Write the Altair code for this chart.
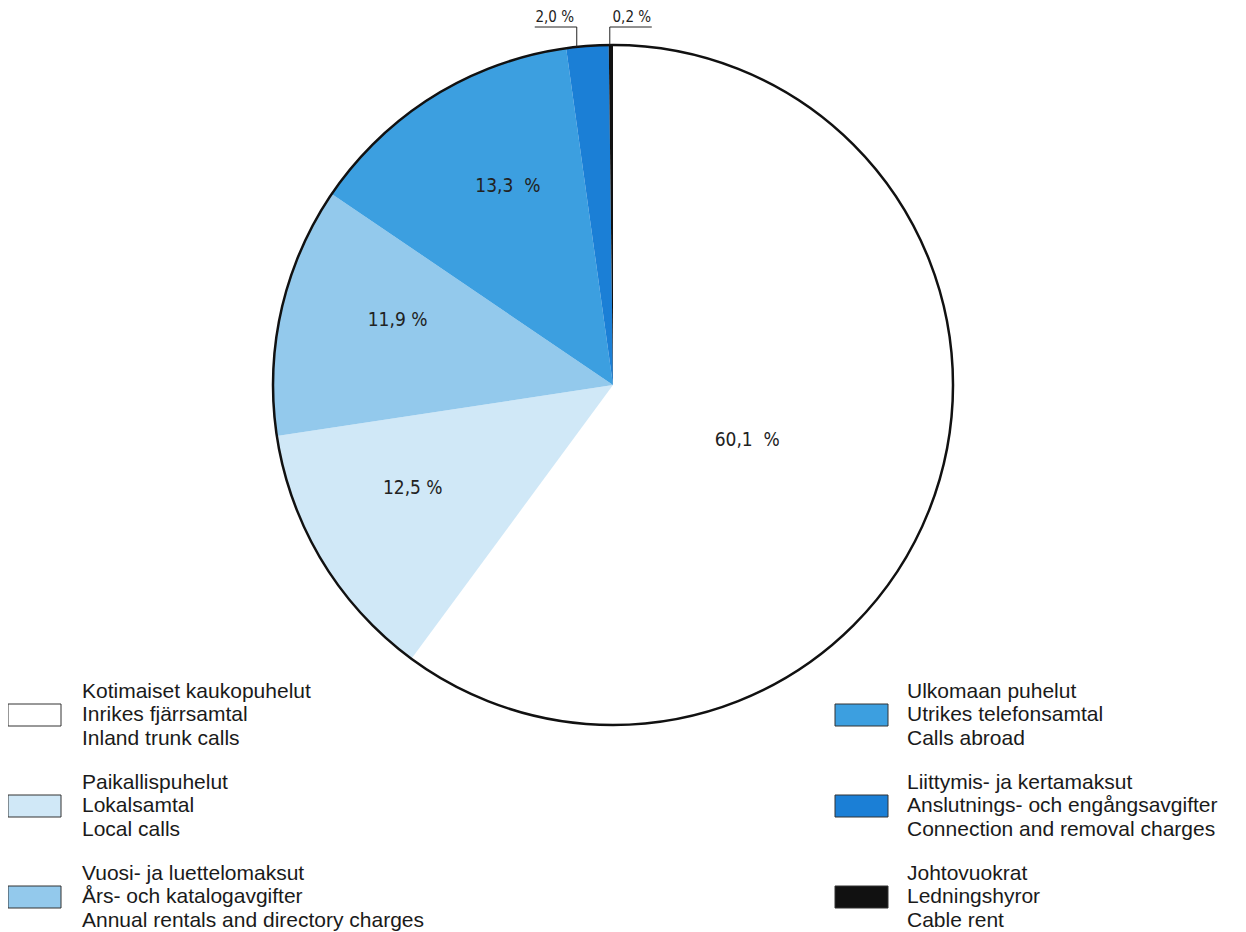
import math
import altair as alt
import pandas as pd

# ---- data ----
finnish = ["Kotimaiset kaukopuhelut", "Paikallispuhelut", "Vuosi- ja luettelomaksut",
           "Ulkomaan puhelut", "Liittymis- ja kertamaksut", "Johtovuokrat"]
swedish = ["Inrikes fjärrsamtal", "Lokalsamtal", "Års- och katalogavgifter",
           "Utrikes telefonsamtal", "Anslutnings- och engångsavgifter", "Ledningshyror"]
english = ["Inland trunk calls", "Local calls", "Annual rentals and directory charges",
           "Calls abroad", "Connection and removal charges", "Cable rent"]
shares = [60.1, 12.5, 11.9, 13.3, 2.0, 0.2]
share_labels = ["60,1\u00a0\u00a0%", "12,5 %", "11,9 %", "13,3\u00a0\u00a0%", "2,0 %", "0,2 %"]
colors = ["#ffffff", "#d0e8f7", "#93c9ec", "#3c9fe0", "#1b7fd6", "#111111"]

df = pd.DataFrame({
    "idx": list(range(len(finnish))),
    "fi": finnish,
    "sv": swedish,
    "en": english,
    "share": shares,
    "label": share_labels,
})

# ---- layout constants (chart coordinates) ----
CX, CY, R = 605, 377, 340
FONT = "Liberation Sans"
NUMFONT = "Liberation Sans Narrow, DejaVu Sans Condensed, Liberation Sans"

color = alt.Color("fi:N", scale=alt.Scale(domain=finnish, range=colors), legend=None)
base = alt.Chart(df)

pie = base.mark_arc(x=CX, y=CY, outerRadius=R, strokeWidth=0).encode(
    theta=alt.Theta("share:Q", stack=True),
    order=alt.Order("idx:Q"),
    color=color,
)

outline = alt.Chart(pd.DataFrame({"v": [1]})).mark_arc(
    x=CX, y=CY, outerRadius=R, fillOpacity=0, stroke="#111111", strokeWidth=2.5
).encode(theta=alt.value(0), theta2=alt.value(2 * math.pi))

polar = base.transform_window(
    cum="sum(share)", sort=[alt.SortField("idx")], frame=[None, 0]
).transform_joinaggregate(tot="sum(share)").transform_calculate(
    a0="2*PI*(datum.cum - datum.share)/datum.tot",
    mid="2*PI*(datum.cum - datum.share/2)/datum.tot",
    span="2*PI*datum.share/datum.tot",
)

inner = polar.transform_filter("datum.share >= 5").transform_calculate(
    r="datum.share > 50 ? 145 : 225",
    ang="datum.mid + 0.07",
).transform_calculate(
    px=f"{CX} + datum.r*sin(datum.ang)",
    py=f"{CY} - datum.r*cos(datum.ang)",
).mark_text(font=NUMFONT, fontSize=19, color="#222222").encode(
    x=alt.X("px:Q", scale=None, axis=None),
    y=alt.Y("py:Q", scale=None, axis=None),
    text="label:N",
)

small = polar.transform_filter("datum.share < 5").transform_calculate(
    ang="datum.a0 + datum.span/4",
    side="datum.share >= 1 ? -1 : 1",
).transform_calculate(
    lx=f"{CX} + {R}*sin(datum.ang)",
    ly=f"{CY} - {R}*cos(datum.ang)",
).transform_calculate(
    lx2="datum.lx + datum.side*42",
    tx="datum.lx + datum.side*22",
    top="19",
)

lead_v = small.mark_rule(color="#222222", strokeWidth=1).encode(
    x=alt.X("lx:Q", scale=None, axis=None),
    y=alt.Y("ly:Q", scale=None, axis=None),
    y2="top:Q",
)
lead_h = small.mark_rule(color="#222222", strokeWidth=1).encode(
    x=alt.X("lx:Q", scale=None, axis=None),
    x2="lx2:Q",
    y=alt.Y("top:Q", scale=None, axis=None),
)
small_text = small.mark_text(font=NUMFONT, fontSize=15, color="#222222",
                             baseline="bottom", dy=-2).encode(
    x=alt.X("tx:Q", scale=None, axis=None),
    y=alt.Y("top:Q", scale=None, axis=None),
    text="label:N",
)

leg = base.transform_calculate(
    col="datum.idx < 3 ? 0 : 1",
    row="datum.idx % 3",
).transform_calculate(
    cy="707 + datum.row*91",
    bx="datum.col*827",
)

boxes = leg.transform_calculate(
    bx2="datum.bx + 53", by="datum.cy - 11", by2="datum.cy + 11"
).mark_rect(stroke="#333333", strokeWidth=1).encode(
    x=alt.X("bx:Q", scale=None, axis=None),
    x2="bx2:Q",
    y=alt.Y("by:Q", scale=None, axis=None),
    y2="by2:Q",
    color=color,
)

leg_text = leg.transform_fold(["fi", "sv", "en"], as_=["lang", "line"]).transform_calculate(
    ln="indexof(['fi','sv','en'], datum.lang)",
).transform_calculate(
    tx="74 + datum.col*825",
    ty="datum.cy + (datum.ln - 1)*23.5",
).mark_text(font=FONT, fontSize=21, color="#1a1a1a", align="left", baseline="middle").encode(
    x=alt.X("tx:Q", scale=None, axis=None),
    y=alt.Y("ty:Q", scale=None, axis=None),
    text="line:N",
)

chart = alt.layer(pie, outline, inner, lead_v, lead_h, small_text, boxes, leg_text).properties(
    width=1230, height=924, autosize=alt.AutoSizeParams(type="none"), padding=0
).configure_view(stroke=None)

chart.save("out.html", embed_options={"renderer": "svg", "actions": False})
